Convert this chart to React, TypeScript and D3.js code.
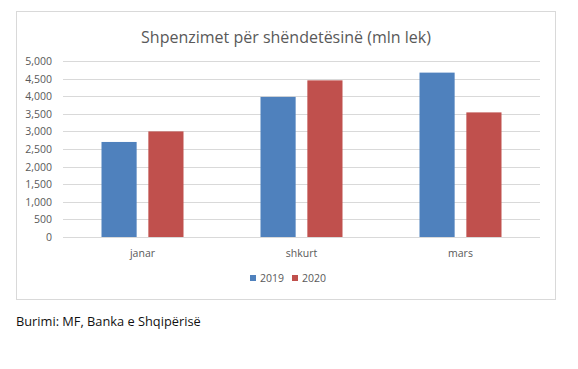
import * as d3 from 'd3';
import React, { useRef, useEffect } from 'react';

const months = ['janar', 'shkurt', 'mars'];
const series = ['2019', '2020'];
const values2019 = [2700, 3980, 4670];
const values2020 = [3000, 4450, 3540];
const yTicks = [0, 500, 1000, 1500, 2000, 2500, 3000, 3500, 4000, 4500, 5000];
const colors = ['#4f81bd', '#c0504d'];

const W = 578;
const H = 369;
const font = "'Open Sans', 'Noto Sans', sans-serif";

function App() {
    const ref = useRef(null);

    useEffect(() => {
        const svg = d3.select(ref.current);
        svg.selectAll('*').remove();

        // chart frame
        svg.append('rect')
            .attr('x', 16.5).attr('y', 11.5)
            .attr('width', 539).attr('height', 288)
            .attr('fill', '#fff')
            .attr('stroke', '#d9d9d9');

        svg.append('text')
            .attr('x', 286).attr('y', 43)
            .attr('text-anchor', 'middle')
            .attr('font-family', font)
            .attr('font-size', 16)
            .attr('fill', '#595959')
            .text('Shpenzimet për shëndetësinë (mln lek)');

        const x = d3.scaleBand().domain(months).range([63, 540]);
        const y = d3.scaleLinear().domain([0, 5000]).range([237, 61]);
        const inner = d3.scaleBand().domain(series).range([0, 82]).paddingInner(0.25);

        // gridlines
        svg.append('g').selectAll('line')
            .data(yTicks)
            .enter().append('line')
            .attr('x1', 63).attr('x2', 540)
            .attr('y1', d => Math.round(y(d)) + 0.5)
            .attr('y2', d => Math.round(y(d)) + 0.5)
            .attr('stroke', '#d9d9d9');

        svg.append('g').selectAll('text')
            .data(yTicks)
            .enter().append('text')
            .attr('x', 52)
            .attr('y', d => y(d) + 4)
            .attr('text-anchor', 'end')
            .attr('font-family', font)
            .attr('font-size', 10.5)
            .attr('fill', '#595959')
            .text(d => d3.format(',')(d));

        const rows = months.map((m, i) => ({ m, vals: [values2019[i], values2020[i]] }));

        const groups = svg.append('g').selectAll('g')
            .data(rows)
            .enter().append('g')
            .attr('transform', d => `translate(${x(d.m) + x.bandwidth() / 2 - 41},0)`);

        groups.selectAll('rect')
            .data(d => d.vals.map((v, j) => ({ s: series[j], v, j })))
            .enter().append('rect')
            .attr('x', d => inner(d.s))
            .attr('y', d => y(d.v))
            .attr('width', inner.bandwidth())
            .attr('height', d => y(0) - y(d.v))
            .attr('fill', d => colors[d.j]);

        svg.append('g').selectAll('text')
            .data(months)
            .enter().append('text')
            .attr('x', d => x(d) + x.bandwidth() / 2)
            .attr('y', 257)
            .attr('text-anchor', 'middle')
            .attr('font-family', font)
            .attr('font-size', 10.5)
            .attr('fill', '#595959')
            .text(d => d);

        // legend
        const legend = svg.append('g').selectAll('g')
            .data(series)
            .enter().append('g')
            .attr('transform', (d, i) => `translate(${250 + i * 42},275)`);
        legend.append('rect')
            .attr('width', 6).attr('height', 6)
            .attr('y', 0)
            .attr('fill', (d, i) => colors[i]);
        legend.append('text')
            .attr('x', 10).attr('y', 7)
            .attr('font-family', font)
            .attr('font-size', 10.5)
            .attr('fill', '#595959')
            .text(d => d);

        svg.append('text')
            .attr('x', 16).attr('y', 326)
            .attr('font-family', font)
            .attr('font-size', 12.8)
            .attr('fill', '#111')
            .text('Burimi: MF, Banka e Shqipërisë');
    }, []);

    return (
        <svg ref={ref} width={W} height={H}
            style={{ position: 'absolute', left: 0, top: 0, background: '#fff' }} />
    );
}

export default App;
